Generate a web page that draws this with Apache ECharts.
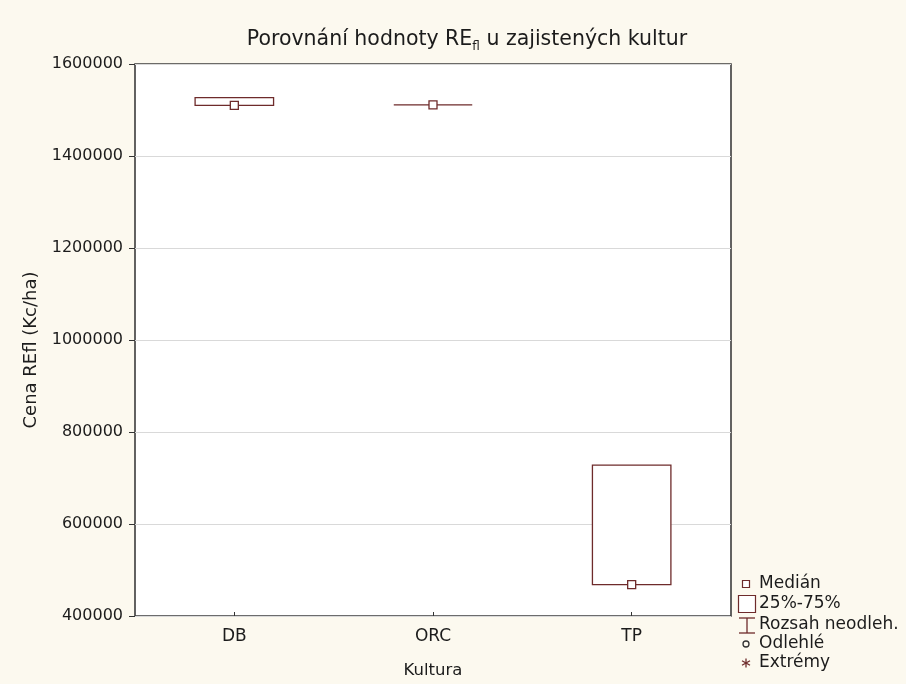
<!DOCTYPE html>
<html>
<head>
<meta charset="utf-8">
<script src="https://cdn.jsdelivr.net/npm/echarts@6/dist/echarts.min.js"></script>
<style>
  html, body { margin: 0; padding: 0; background: #fcf9ef; }
  #chart { width: 906px; height: 684px; }
</style>
</head>
<body>
<div id="chart"></div>
<script>
// Crop categories and box statistics (Kc/ha)
const categories = ['DB', 'ORC', 'TP'];
const minValues    = [1510000, 1511000, 468000];
const q1Values     = [1510000, 1511000, 468000];
const medianValues = [1510000, 1511000, 468000];
const q3Values     = [1527000, 1511000, 728000];
const maxValues    = [1527000, 1511000, 728000];
const yTicks = [400000, 600000, 800000, 1000000, 1200000, 1400000, 1600000];

const boxColor = '#6e2b2b';
const textColor = '#1c1c1c';
const font = 'DejaVu Sans';

// rows: [categoryIndex, q1, median, q3, min, max]
const boxData = categories.map((c, i) =>
  [i, q1Values[i], medianValues[i], q3Values[i], minValues[i], maxValues[i]]);

function renderBox(params, api) {
  const x = api.value(0);
  const pQ1 = api.coord([x, api.value(1)]);
  const pMed = api.coord([x, api.value(2)]);
  const pQ3 = api.coord([x, api.value(3)]);
  const pMin = api.coord([x, api.value(4)]);
  const pMax = api.coord([x, api.value(5)]);
  const band = api.size([1, 0])[0];
  const bw = band * 0.395;
  const cx = pQ1[0];
  const stroke = { stroke: boxColor, lineWidth: 1.3, fill: null };
  const children = [];
  // whiskers (non-outlier range)
  if (pMin[1] > pQ1[1] + 0.5) {
    children.push({ type: 'line', shape: { x1: cx, y1: pQ1[1], x2: cx, y2: pMin[1] }, style: stroke });
    children.push({ type: 'line', shape: { x1: cx - bw / 4, y1: pMin[1], x2: cx + bw / 4, y2: pMin[1] }, style: stroke });
  }
  if (pMax[1] < pQ3[1] - 0.5) {
    children.push({ type: 'line', shape: { x1: cx, y1: pQ3[1], x2: cx, y2: pMax[1] }, style: stroke });
    children.push({ type: 'line', shape: { x1: cx - bw / 4, y1: pMax[1], x2: cx + bw / 4, y2: pMax[1] }, style: stroke });
  }
  // 25%-75% box
  children.push({
    type: 'rect',
    shape: { x: cx - bw / 2, y: pQ3[1], width: bw, height: Math.max(pQ1[1] - pQ3[1], 0) },
    style: { fill: '#ffffff', stroke: boxColor, lineWidth: 1.3 }
  });
  // median marker
  children.push({
    type: 'rect',
    shape: { x: cx - 4, y: pMed[1] - 4, width: 8, height: 8 },
    style: { fill: '#ffffff', stroke: boxColor, lineWidth: 1.3 }
  });
  return { type: 'group', children };
}

// legend drawn as graphic elements
const legendX = 746, legendTextX = 759;
const legendRows = [584, 604, 625, 644, 663];
const legendLabels = ['Medián', '25%-75%', 'Rozsah neodleh.', 'Odlehlé', 'Extrémy'];
const legendStroke = { stroke: boxColor, lineWidth: 1.3, fill: null };
const legendIcons = [
  { type: 'rect', shape: { x: legendX - 3.5, y: legendRows[0] - 3.5, width: 7, height: 7 }, style: { stroke: boxColor, lineWidth: 1.2, fill: '#fff' } },
  { type: 'rect', shape: { x: legendX - 7.5, y: legendRows[1] - 8.5, width: 17, height: 17 }, style: { stroke: boxColor, lineWidth: 1.2, fill: '#fff' } },
  { type: 'group', children: [
    { type: 'line', shape: { x1: legendX - 7, y1: legendRows[2] - 7, x2: legendX + 9, y2: legendRows[2] - 7 }, style: legendStroke },
    { type: 'line', shape: { x1: legendX + 1, y1: legendRows[2] - 7, x2: legendX + 1, y2: legendRows[2] + 8 }, style: legendStroke },
    { type: 'line', shape: { x1: legendX - 7, y1: legendRows[2] + 8, x2: legendX + 9, y2: legendRows[2] + 8 }, style: legendStroke }
  ] },
  { type: 'circle', shape: { cx: legendX, cy: legendRows[3], r: 3 }, style: { stroke: '#333', lineWidth: 1.3, fill: null } },
  { type: 'group', children: [
    { type: 'line', shape: { x1: legendX, y1: legendRows[4] - 4.5, x2: legendX, y2: legendRows[4] + 4.5 }, style: legendStroke },
    { type: 'line', shape: { x1: legendX - 4, y1: legendRows[4] - 2.3, x2: legendX + 4, y2: legendRows[4] + 2.3 }, style: legendStroke },
    { type: 'line', shape: { x1: legendX - 4, y1: legendRows[4] + 2.3, x2: legendX + 4, y2: legendRows[4] - 2.3 }, style: legendStroke }
  ] }
];
const legendTexts = legendLabels.map((t, i) => ({
  type: 'text',
  x: legendTextX, y: legendRows[i],
  style: { text: t, fill: textColor, font: '17px "' + font + '"', verticalAlign: 'middle' }
}));

const chart = echarts.init(document.getElementById('chart'), null, { renderer: 'canvas' });
chart.setOption({
  backgroundColor: '#fcf9ef',
  animation: false,
  title: {
    text: '{a|Porovnání hodnoty RE}{s|fl}{a| u zajistených kultur}',
    left: 462, top: 22, textAlign: 'center',
    textStyle: {
      fontWeight: 'normal',
      rich: {
        a: { fontFamily: font, fontSize: 20.5, fontWeight: 'normal', color: textColor, lineHeight: 26 },
        s: { fontFamily: font, fontSize: 12, fontWeight: 'normal', color: textColor, lineHeight: 26, padding: [14, 0, 0, 0] }
      }
    }
  },
  grid: {
    left: 135, right: 175, top: 64, bottom: 67,
    show: true, backgroundColor: '#ffffff', borderColor: '#3c3c3c', borderWidth: 1.6
  },
  xAxis: {
    type: 'category',
    data: categories,
    name: 'Kultura',
    nameLocation: 'middle',
    nameGap: 46,
    nameTextStyle: { fontFamily: font, fontSize: 16.5, color: textColor },
    axisLine: { show: false },
    axisTick: { show: true, inside: true, length: 4, alignWithLabel: true, lineStyle: { color: '#333' } },
    axisLabel: { margin: 12, fontFamily: font, fontSize: 17, color: textColor },
    splitLine: { show: false }
  },
  yAxis: {
    type: 'value',
    min: yTicks[0], max: yTicks[yTicks.length - 1], interval: yTicks[1] - yTicks[0],
    name: 'Cena REfl (Kc/ha)',
    nameLocation: 'middle',
    nameGap: 95,
    nameTextStyle: { fontFamily: font, fontSize: 18, color: textColor, padding: [0, 20, 0, 0] },
    axisLine: { show: false },
    axisTick: { show: true, length: 6, lineStyle: { color: '#333' } },
    axisLabel: { margin: 12, fontFamily: font, fontSize: 16, color: textColor, formatter: v => String(v) },
    splitLine: { show: true, lineStyle: { color: '#d9d9d9', width: 1 } }
  },
  series: [{
    type: 'custom',
    renderItem: renderBox,
    data: boxData,
    encode: { x: 0, y: [1, 2, 3, 4, 5] },
    z: 5
  }],
  graphic: legendIcons.concat(legendTexts)
});
</script>
</body>
</html>
